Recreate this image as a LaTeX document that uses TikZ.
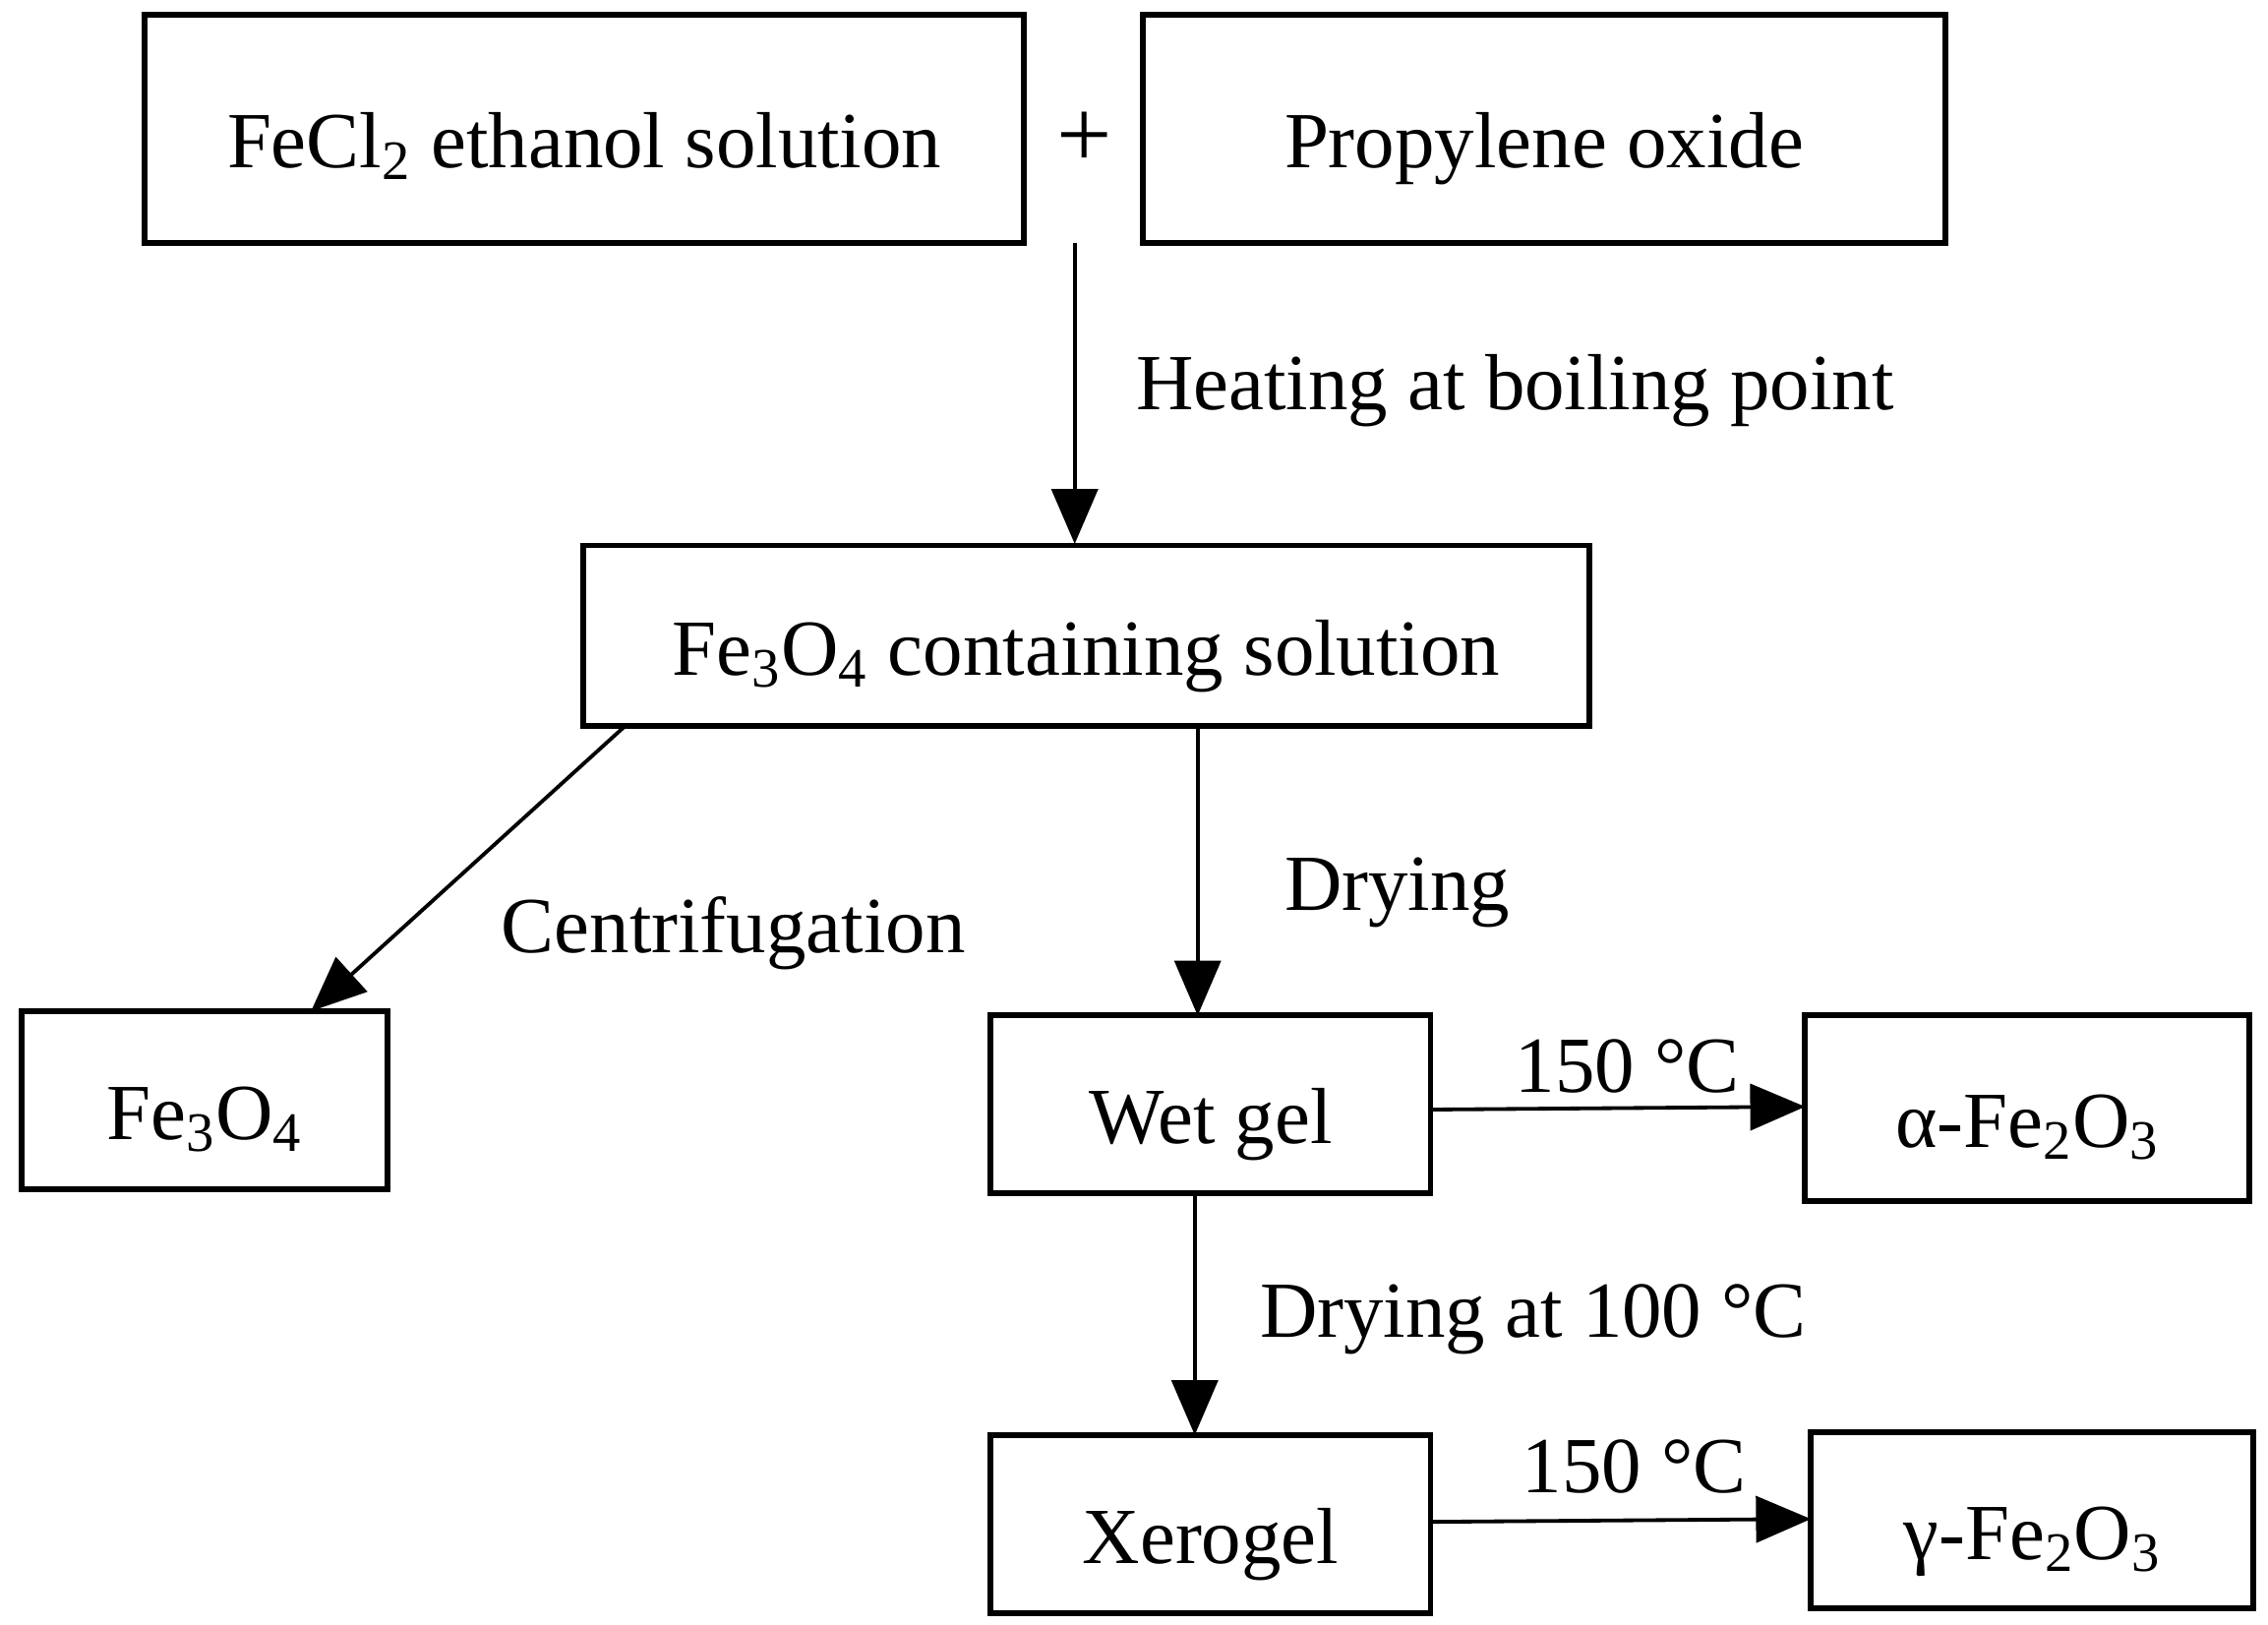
\documentclass[tikz,border=0pt]{standalone}
\usepackage{fontspec}
\setmainfont{Liberation Serif}
\usetikzlibrary{arrows.meta}
\begin{document}
\begin{tikzpicture}[x=0.5pt,y=-0.5pt,
  box/.style={draw,line width=2pt,inner sep=0pt,text height=33pt,text depth=6pt},
  arr/.style={line width=1.3pt,-{Triangle[length=19pt,width=16pt]}},
  lab/.style={font=\fontsize{27.5}{32}\selectfont,inner sep=0pt},
  every node/.style={font=\fontsize{27.5}{32}\selectfont}]
\useasboundingbox (0,0) rectangle (1568,1123);
\node[box,minimum width=304pt,minimum height=79pt] (fecl) at (404,89) {FeCl\textsubscript{2} ethanol solution};
\node[box,minimum width=277.5pt,minimum height=79pt] (po) at (1067.5,89) {Propylene oxide};
\node[lab,font=\fontsize{34}{36}\selectfont] (plus) at (750,97) {+};
\coordinate (top) at (743,168);
\node[box,minimum width=348pt,minimum height=62.5pt] (sol) at (751,439.5) {Fe\textsubscript{3}O\textsubscript{4} containing solution};
\node[box,minimum width=126.5pt,minimum height=61.5pt] (fe3o4) at (141.5,760.5) {Fe\textsubscript{3}O\textsubscript{4}};
\node[box,minimum width=152pt,minimum height=61.5pt] (wet) at (837,763.5) {Wet gel};
\node[box,minimum width=153.5pt,minimum height=64pt] (alpha) at (1401.5,766) {α-Fe\textsubscript{2}O\textsubscript{3}};
\node[box,minimum width=152pt,minimum height=61.5pt] (xero) at (837,1053.5) {Xerogel};
\node[box,minimum width=153pt,minimum height=61pt] (gamma) at (1405,1051) {γ-Fe\textsubscript{2}O\textsubscript{3}};
\draw[arr] (top) -- (743,376);
\node[lab,anchor=west] at (785,270) {Heating at boiling point};
\draw[arr] (432,502) -- (215,699);
\node[lab] at (507,645) {Centrifugation};
\draw[arr] (828,502) -- (828,702);
\node[lab] at (966,617) {Drying};
\draw[arr] (989,767) -- (1248,765);
\node[lab] at (1125,737) {150 °C};
\draw[arr] (826,825) -- (826,992);
\node[lab] at (1060,912) {Drying at 100 °C};
\draw[arr] (989,1052) -- (1252,1050);
\node[lab] at (1130,1014) {150 °C};
\end{tikzpicture}
\end{document}
